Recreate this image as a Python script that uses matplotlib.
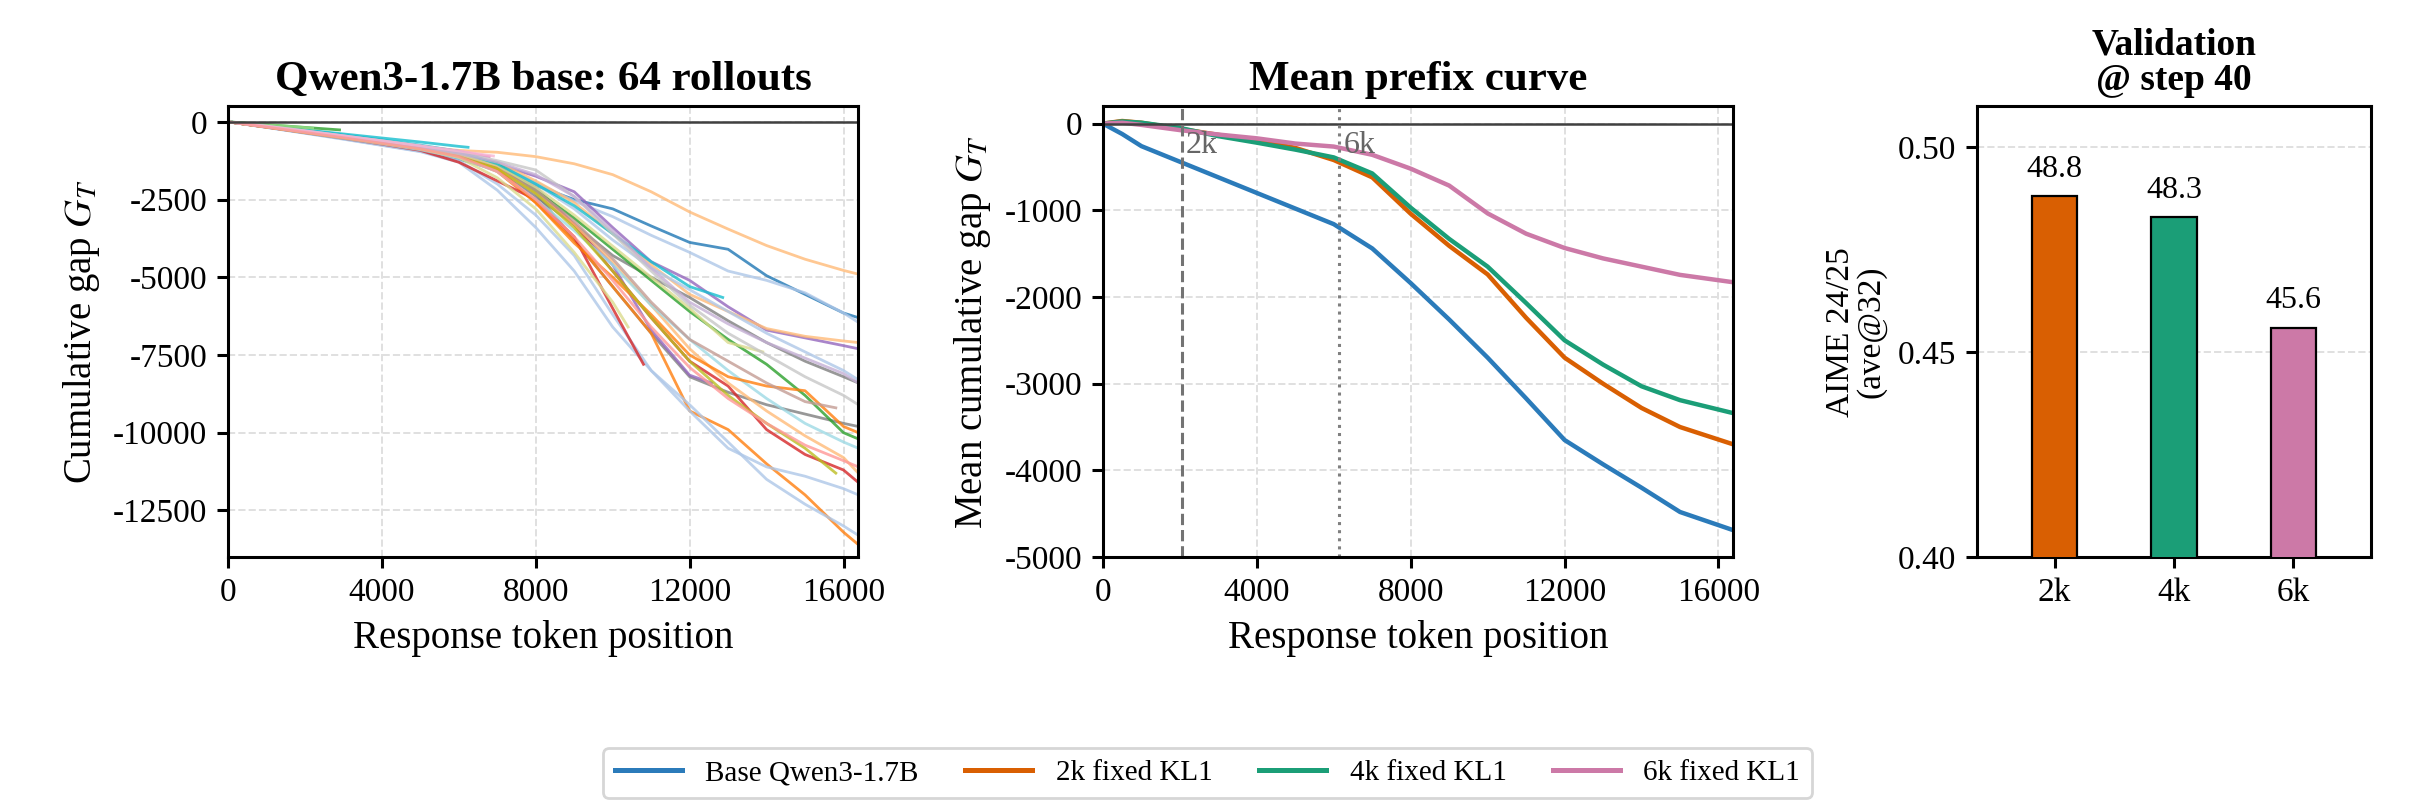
import numpy as np
import matplotlib
matplotlib.use("Agg")
import matplotlib.pyplot as plt
from matplotlib.lines import Line2D

plt.rcParams["font.family"] = ["Liberation Serif", "DejaVu Serif"]
plt.rcParams["mathtext.fontset"] = "stix"
plt.rcParams["axes.unicode_minus"] = False

# ==========================================================
# Data
# ==========================================================

# left panel: cumulative gap of individual rollouts (sampled every 1000 tokens)
rollout_grid = [0, 1000, 2000, 3000, 4000, 5000, 6000, 7000, 8000, 9000,
                10000, 11000, 12000, 13000, 14000, 15000, 16000, 16384]

rollout_end = [16384, 16384, 16384, 16384, 16384, 16384, 16384, 16384, 12570,
               16384, 16384, 16384, 16384, 10800, 16384, 16384, 16384, 16384,
               15800, 15800, 13900, 12860, 10400, 6240, 6790, 2900, 2200,
               16384, 16384, 6900, 16384]

rollout_gap = [
    [0, -170, -340, -500, -650, -800, -920, -980, -1120, -1350, -1700, -2250, -2900, -3450, -3980, -4420, -4780, -4900],
    [0, -150, -320, -500, -700, -900, -1200, -1550, -2050, -2500, -2800, -3350, -3880, -4100, -4950, -5550, -6150, -6300],
    [0, -160, -330, -510, -700, -880, -1100, -1400, -1950, -2550, -3050, -3650, -4200, -4800, -5100, -5500, -6150, -6450],
    [0, -150, -310, -480, -650, -820, -1050, -1350, -1750, -2250, -3400, -4500, -5100, -5950, -6700, -6950, -7200, -7300],
    [0, -170, -340, -510, -680, -850, -1050, -1300, -1900, -2600, -3600, -4600, -5550, -6100, -6650, -6900, -7050, -7100],
    [0, -160, -320, -490, -660, -840, -1050, -1500, -2400, -3300, -4300, -5000, -5650, -6400, -7100, -7700, -8200, -8400],
    [0, -150, -310, -480, -650, -830, -1050, -1400, -2000, -2800, -3800, -4700, -5400, -6100, -6800, -7400, -8000, -8300],
    [0, -150, -320, -500, -680, -870, -1100, -1500, -2300, -3800, -5300, -6800, -8200, -8700, -9100, -9400, -9700, -9800],
    [0, -150, -320, -490, -660, -840, -1050, -1400, -2100, -3300, -4600, -6700, -8150, -8400],
    [0, -170, -350, -520, -700, -880, -1100, -1600, -2600, -3800, -5300, -6800, -9300, -9900, -11000, -12000, -13200, -13600],
    [0, -180, -360, -550, -750, -950, -1250, -2000, -3000, -4300, -6200, -8000, -9300, -10500, -11100, -11400, -11800, -12000],
    [0, -180, -370, -560, -760, -960, -1300, -2200, -3400, -4800, -6600, -8000, -9100, -10300, -11500, -12300, -13000, -13300],
    [0, -160, -330, -500, -680, -860, -1100, -1500, -2200, -3300, -4800, -6300, -7700, -8500, -9900, -10700, -11200, -11600],
    [0, -170, -350, -530, -720, -920, -1300, -1900, -2500, -3700, -6000, -7800],
    [0, -160, -330, -500, -670, -850, -1100, -1500, -2300, -3300, -4500, -5900, -7300, -8400, -9300, -10100, -10800, -11300],
    [0, -160, -320, -480, -640, -800, -1000, -1350, -2200, -3100, -4100, -5100, -6100, -7000, -7800, -8800, -10000, -10200],
    [0, -170, -350, -530, -710, -900, -1150, -1600, -2500, -3500, -4600, -5900, -7000, -8000, -8900, -9700, -10300, -10500],
    [0, -170, -340, -510, -680, -860, -1100, -1500, -2600, -3900, -5000, -6200, -7500, -8200, -8500, -8650, -9800, -10000],
    [0, -160, -330, -500, -680, -860, -1100, -1500, -2300, -3400, -4800, -6300, -7700, -8800, -9700, -10500, -11300],
    [0, -160, -320, -490, -660, -840, -1050, -1400, -2200, -3200, -4400, -5800, -7000, -7700, -8400, -9000, -9200],
    [0, -150, -310, -480, -650, -820, -1030, -1400, -2100, -3000, -4000, -5000, -6000, -7100, -7400],
    [0, -130, -270, -420, -580, -750, -950, -1350, -2000, -2700, -3600, -4500, -5300, -5650],
    [0, -160, -330, -500, -680, -870, -1150, -1800, -2800, -4200, -5800, -6600],
    [0, -130, -260, -390, -520, -650, -790, -820],
    [0, -150, -300, -460, -620, -780, -950, -1120],
    [0, -90, -180, -260],
    [0, -95, -185, -205],
    [0, -140, -290, -450, -610, -780, -980, -1250, -1550, -2400, -3600, -4800, -5900, -6800, -7500, -8200, -8800, -9100],
    [0, -150, -310, -470, -640, -810, -1020, -1300, -1700, -2400, -3500, -4700, -5800, -6500, -7100, -7600, -8100, -8400],
    [0, -140, -290, -450, -610, -770, -940, -1100],
    [0, -170, -340, -510, -690, -870, -1120, -1600, -2500, -3700, -5100, -6600, -7900, -8900, -9700, -10400, -10900, -11100],
]

rollout_colors = ["#ffbb78", "#1f77b4", "#aec7e8", "#9467bd", "#ffbb78", "#7f7f7f",
                  "#aec7e8", "#7f7f7f", "#9467bd", "#ff7f0e", "#aec7e8", "#aec7e8",
                  "#d62728", "#d62728", "#ffbb78", "#2ca02c", "#9edae5", "#ff7f0e",
                  "#bcbd22", "#c49c94", "#dbdb8d", "#17becf", "#dbdb8d", "#17becf",
                  "#e377c2", "#2ca02c", "#98df8a", "#c7c7c7", "#c5b0d5", "#f7b6d2",
                  "#ff9896"]

# middle panel: mean prefix curves
mean_x = [0, 500, 1000, 2000, 3000, 4000, 5000, 6000, 7000, 8000, 9000,
          10000, 11000, 12000, 13000, 14000, 15000, 16384]
mean_base = [0, -120, -260, -440, -620, -800, -980, -1160, -1440, -1840, -2260,
             -2700, -3170, -3650, -3930, -4200, -4480, -4690]
mean_2k = [0, 30, 10, -60, -130, -195, -280, -420, -620, -1040, -1410,
           -1740, -2240, -2700, -3000, -3280, -3500, -3700]
mean_4k = [0, 25, 10, -50, -145, -220, -300, -390, -575, -970, -1330,
           -1650, -2070, -2500, -2780, -3030, -3190, -3340]
mean_6k = [0, 10, -15, -75, -126, -170, -230, -265, -360, -520, -715,
           -1036, -1270, -1435, -1555, -1650, -1745, -1830]

series_labels = ["Base Qwen3-1.7B", "2k fixed KL1", "4k fixed KL1", "6k fixed KL1"]
series_colors = ["#2b7bba", "#d95f02", "#1b9e77", "#cc79a7"]

# right panel: validation accuracy
bar_labels = ["2k", "4k", "6k"]
bar_values = [0.488, 0.483, 0.456]


# ==========================================================
# Figure
# ==========================================================

fig = plt.figure(figsize=(12.075, 4.025), dpi=200)

ax1 = fig.add_axes([0.0944, 0.308, 0.2610, 0.560])
ax2 = fig.add_axes([0.4567, 0.308, 0.2610, 0.560])
ax3 = fig.add_axes([0.8186, 0.308, 0.1632, 0.560])

for ax in (ax1, ax2, ax3):
    for s in ax.spines.values():
        s.set_linewidth(1.1)
    ax.tick_params(labelsize=12, width=1.1, length=4)


# ----- left: rollouts -----
for ys, end, c in zip(rollout_gap, rollout_end, rollout_colors):
    xs = [g for g in rollout_grid if g < end] + [end]
    ax1.plot(xs, ys, color=c, lw=1.0, alpha=0.8)

ax1.axhline(0, color="0.25", lw=0.9)
ax1.set_xlim(0, 16384)
ax1.set_ylim(-14000, 500)
ax1.set_xticks([0, 4000, 8000, 12000, 16000])
ax1.set_yticks([0, -2500, -5000, -7500, -10000, -12500])
ax1.grid(True, ls="--", color="0.88", lw=0.7)
ax1.set_title("Qwen3-1.7B base: 64 rollouts", fontsize=15.5, fontweight="bold")
ax1.set_xlabel("Response token position", fontsize=14)
ax1.set_ylabel("Cumulative gap $G_T$", fontsize=14)


# ----- middle: mean prefix curve -----
for ys, lab, c in zip([mean_base, mean_2k, mean_4k, mean_6k], series_labels, series_colors):
    ax2.plot(mean_x, ys, color=c, lw=1.6, label=lab)

ax2.axhline(0, color="0.25", lw=0.9)
ax2.axvline(2048, color="0.45", lw=1.1, ls="--")
ax2.axvline(6144, color="0.5", lw=1.1, ls=":")
ax2.text(2048 + 100, -80, "2k", color="0.4", fontsize=11.5, va="top")
ax2.text(6144 + 100, -80, "6k", color="0.4", fontsize=11.5, va="top")
ax2.set_xlim(0, 16384)
ax2.set_ylim(-5000, 200)
ax2.set_xticks([0, 4000, 8000, 12000, 16000])
ax2.set_yticks([0, -1000, -2000, -3000, -4000, -5000])
ax2.grid(True, ls="--", color="0.88", lw=0.7)
ax2.set_title("Mean prefix curve", fontsize=15.5, fontweight="bold")
ax2.set_xlabel("Response token position", fontsize=14)
ax2.set_ylabel("Mean cumulative gap $G_T$", fontsize=14)


# ----- right: validation bars -----
pos = np.arange(len(bar_labels))
ax3.bar(pos, bar_values, width=0.38, color=series_colors[1:],
        edgecolor="black", linewidth=0.8, zorder=3)
for p, v in zip(pos, bar_values):
    ax3.text(p, v + 0.003, f"{v * 100:.1f}", ha="center", va="bottom", fontsize=11.5)

ax3.set_xlim(-0.65, 2.65)
ax3.set_ylim(0.40, 0.51)
ax3.set_xticks(pos)
ax3.set_xticklabels(bar_labels)
ax3.set_yticks([0.40, 0.45, 0.50])
ax3.set_yticklabels(["0.40", "0.45", "0.50"])
ax3.yaxis.grid(True, ls="--", color="0.88", lw=0.7)
ax3.set_axisbelow(True)
ax3.set_title("Validation\n@ step 40", fontsize=13.5, fontweight="bold", linespacing=1.0)
ax3.set_ylabel("AIME 24/25\n(ave@32)", fontsize=12, linespacing=1.0)


# ----- shared legend -----
handles = [Line2D([0], [0], color=c, lw=1.8) for c in series_colors]
fig.legend(handles, series_labels, loc="center", bbox_to_anchor=(0.5, 0.040),
           ncol=4, fontsize=10.5, frameon=True, edgecolor="0.8",
           handlelength=2.3, columnspacing=1.6)

plt.savefig("out.png", dpi=200)
plt.close()
